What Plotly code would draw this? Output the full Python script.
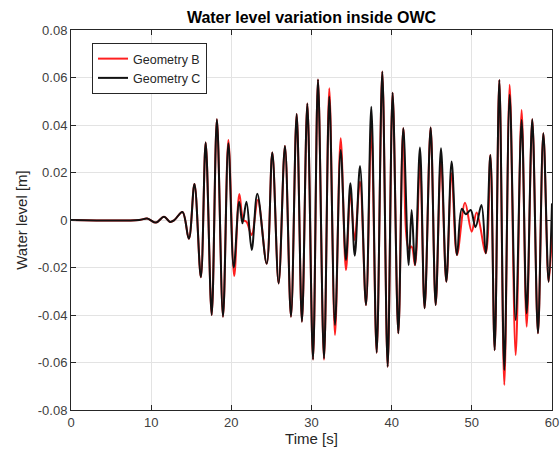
import plotly.graph_objects as go

# Geometry C (black) - extrema
t_c = [0, 8.5, 9.5, 10.6, 11.6, 12.35, 12.9, 13.9, 14.7, 15.4, 16.2, 16.8, 17.55, 18.2, 18.96,
       19.63, 20.3, 20.98, 21.39, 21.89, 22.54, 23.24, 24.41, 25.11, 25.9, 26.69, 27.44, 28.15,
       28.81, 29.48, 30.19, 30.81, 31.56, 32.22, 32.93, 33.64, 34.3, 34.85, 35.4, 36.05, 36.8,
       37.46, 38.13, 38.83, 39.5, 40.12, 40.83, 41.45, 42.12, 42.49, 42.91, 43.53, 44.11, 44.86,
       45.49, 46.15, 46.82, 47.48, 48.15, 48.75, 49.25, 49.85, 50.45, 51.2, 51.74, 52.31, 52.85,
       53.43, 54.05, 54.72, 55.47, 56.21, 56.84, 57.54, 58.25, 58.92, 59.58, 60.0]
y_c = [0, 0, 0.0006, -0.0011, 0.0014, -0.0008, 0.0, 0.0034, -0.0079, 0.0152, -0.0241, 0.0326,
       -0.040, 0.0424, -0.0407, 0.0323, -0.0200, 0.0077, -0.0014, 0.0077, -0.0126, 0.0111,
       -0.0184, 0.0284, -0.0267, 0.0312, -0.0407, 0.0446, -0.0428, 0.0491, -0.0587, 0.0592,
       -0.0583, 0.052, -0.0442, 0.0295, -0.0168, 0.0155, -0.0150, 0.0227, -0.0358, 0.0477,
       -0.0559, 0.0625, -0.0618, 0.0536, -0.0477, 0.0386, -0.019, 0.0042, -0.019, 0.0305,
       -0.0372, 0.039, -0.0358, 0.0302, -0.026, 0.0246, -0.0147, 0.0047, 0.0024, 0.0042,
       -0.0030, 0.0063, -0.014, 0.0274, -0.0548, 0.059, -0.0632, 0.0527, -0.0421, 0.0421,
       -0.0393, 0.0424, -0.0477, 0.0365, -0.026, 0.007]

# Geometry B (red)
t_b = [0, 8.5, 9.5, 10.6, 11.6, 12.35, 12.9, 13.9, 14.7, 15.4, 16.2, 16.8, 17.55, 18.2, 18.96,
       19.63, 20.36, 21.0, 21.5, 21.9, 22.54, 23.3, 24.41, 25.11, 25.9, 26.69, 27.44, 28.15,
       28.81, 29.48, 30.19, 30.81, 31.56, 32.22, 32.93, 33.64, 34.3, 34.85, 35.38, 36.05, 36.8,
       37.46, 38.13, 38.83, 39.5, 40.12, 40.83, 41.45, 42.12, 42.49, 42.91, 43.53, 44.11, 44.86,
       45.49, 46.15, 46.82, 47.48, 48.15, 49.15, 49.98, 50.6, 51.74, 52.31, 52.85,
       53.43, 54.05, 54.72, 55.47, 56.21, 56.84, 57.54, 58.25, 58.92, 59.58, 60.0]
y_b = [0, 0, 0.0006, -0.0011, 0.0014, -0.0008, 0.0, 0.0034, -0.0079, 0.0152, -0.0241, 0.0326,
       -0.040, 0.0424, -0.0407, 0.0337, -0.0236, 0.011, 0.0, -0.0008, -0.0063, 0.0084,
       -0.0184, 0.0284, -0.0267, 0.0312, -0.0407, 0.0446, -0.0428, 0.0491, -0.0587, 0.0592,
       -0.0588, 0.0555, -0.0484, 0.0344, -0.0211, 0.012, -0.0084, 0.0161, -0.0358, 0.0386,
       -0.0559, 0.0625, -0.0618, 0.0536, -0.0477, 0.0386, -0.0119, -0.0112, -0.019, 0.0239,
       -0.0372, 0.039, -0.0358, 0.0253, -0.026, 0.0197, -0.0147, 0.0073, -0.0049, 0.0032,
       -0.014, 0.0274, -0.0548, 0.059, -0.0695, 0.0569, -0.0569, 0.0463,
       -0.0449, 0.0424, -0.0477, 0.0365, -0.026, -0.0049]

x_ticks = [0, 10, 20, 30, 40, 50, 60]
y_ticks = [-0.08, -0.06, -0.04, -0.02, 0, 0.02, 0.04, 0.06, 0.08]
y_ticktext = ["-0.08", "-0.06", "-0.04", "-0.02", "0", "0.02", "0.04", "0.06", "0.08"]

FONT = "Liberation Sans, Arial, Helvetica, sans-serif"

W, H = 560, 461

fig = go.Figure()
fig.add_trace(go.Scatter(x=t_b, y=y_b, mode="lines", name="Geometry B",
                         line=dict(color="#ff2020", width=2, shape="spline", smoothing=1)))
fig.add_trace(go.Scatter(x=t_c, y=y_c, mode="lines", name="Geometry C",
                         line=dict(color="#111111", width=2, shape="spline", smoothing=1)))

axis_common = dict(showline=True, linecolor="#262626", linewidth=1, mirror="ticks",
                   ticks="inside", ticklen=5, tickcolor="#262626",
                   showgrid=True, gridcolor="#e3e3e3", gridwidth=1, zeroline=False,
                   ticklabeloverflow="allow",
                   tickfont=dict(family=FONT, size=13, color="#404040"))

fig.update_layout(
    width=W, height=H,
    margin=dict(l=71, r=8, t=30, b=51, autoexpand=False),
    paper_bgcolor="white", plot_bgcolor="white",
    title=dict(text="<b>Water level variation inside OWC</b>", x=311.5 / W,
               xanchor="center", y=1 - 17.5 / H, yanchor="middle",
               font=dict(family=FONT, size=16, color="#000000")),
    xaxis=dict(range=[0, 60], tickvals=x_ticks,
               title=dict(text="Time [s]", font=dict(family=FONT, size=15, color="#262626"),
                          standoff=4),
               **axis_common),
    yaxis=dict(range=[-0.08, 0.08], tickvals=y_ticks, ticktext=y_ticktext,
               title=dict(text="Water level [m]", font=dict(family=FONT, size=15, color="#262626"),
                          standoff=6),
               **axis_common),
    legend=dict(x=21 / 481, y=1 - 13 / 380, xanchor="left", yanchor="top",
                bgcolor="white", bordercolor="#262626", borderwidth=1,
                font=dict(family=FONT, size=12.5, color="#262626"),
                tracegroupgap=0, itemwidth=30),
    showlegend=True,
)

fig.write_html("out.html", config={"displayModeBar": False},
               post_script="document.body.style.margin='0';document.body.style.overflow='hidden';")
